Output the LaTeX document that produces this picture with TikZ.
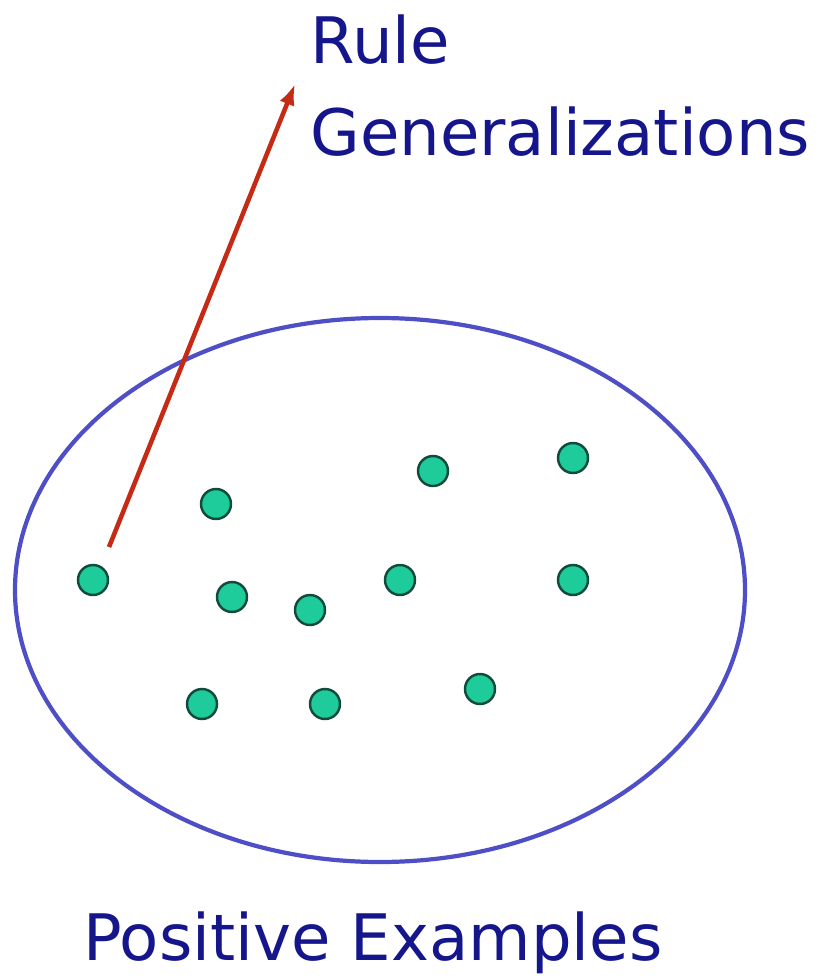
\documentclass[tikz,border=0pt]{standalone}
\usepackage{fontspec}
\setmainfont{DejaVu Sans}
\usetikzlibrary{arrows.meta,positioning}
\definecolor{LabelInk}{HTML}{16168C}
\definecolor{SetBlue}{HTML}{4E4EC6}
\definecolor{DotFill}{HTML}{1DCB9B}
\definecolor{DotEdge}{HTML}{124A3C}
\definecolor{RuleRed}{HTML}{C42A14}

\begin{document}
\begin{tikzpicture}[
    x=0.02cm, y=-0.02cm,
    label/.style={font=\fontsize{36.5}{42}\selectfont, text=LabelInk,
      inner sep=0pt, anchor=base west},
    example/.style={circle, draw=DotEdge, fill=DotFill, line width=1.4pt,
      minimum size=0.6cm, inner sep=0pt},
    arr/.style={-{Latex[length=12pt,width=9pt]}, line width=2.6pt, color=RuleRed}
  ]
  \useasboundingbox (0,0) rectangle (819,980);

  % the set of positive examples
  \draw[SetBlue, line width=2.4pt] (380,590) ellipse [x radius=365, y radius=272];

  \node[example] (e1)  at (93,580)  {};
  \node[example] (e2)  at (216,504) {};
  \node[example] (e3)  at (232,597) {};
  \node[example] (e4)  at (310,610) {};
  \node[example] (e5)  at (433,471) {};
  \node[example] (e6)  at (400,580) {};
  \node[example] (e7)  at (573,458) {};
  \node[example] (e8)  at (573,580) {};
  \node[example] (e9)  at (202,704) {};
  \node[example] (e10) at (325,704) {};
  \node[example] (e11) at (480,689) {};

  % generalization step
  \coordinate (gtail) at (109,547);
  \coordinate (ghead) at (295,84);
  \draw[arr] (gtail) -- (ghead);

  \node[label] (rule) at (310,64)  {Rule};
  \node[label] (gen)  at (310,155) {Generalizations};
  \node[label] (pos)  at (83,960)  {Positive Examples};

\end{tikzpicture}
\end{document}
